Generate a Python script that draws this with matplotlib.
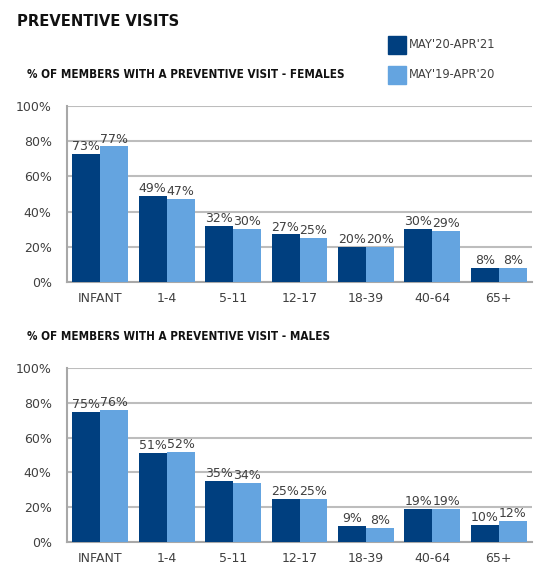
import numpy as np
import matplotlib.pyplot as plt
from matplotlib.patches import Rectangle

# donnees
categories = ["INFANT", "1-4", "5-11", "12-17", "18-39", "40-64", "65+"]
females_2021 = [73, 49, 32, 27, 20, 30, 8]
females_2020 = [77, 47, 30, 25, 20, 29, 8]
males_2021 = [75, 51, 35, 25, 9, 19, 10]
males_2020 = [76, 52, 34, 25, 8, 19, 12]
series_names = ["MAY'20-APR'21", "MAY'19-APR'20"]

DARK = "#003F7F"
LIGHT = "#64A4E0"
GRID = "#BDBDBD"
TXT = "#404040"

plt.rcParams['font.family'] = ['DejaVu Sans']

W, H = 539, 564
fig = plt.figure(figsize=(W / 100, H / 100), dpi=100)


def fig_axes(left, top, right, bottom):
    return fig.add_axes([left / W, 1 - bottom / H, (right - left) / W, (bottom - top) / H])


def draw_panel(ax, v1, v2):
    x = np.arange(len(categories))
    bw = 0.42
    ax.bar(x - bw / 2, v1, bw, color=DARK, zorder=3)
    ax.bar(x + bw / 2, v2, bw, color=LIGHT, zorder=3)
    for xi, a, b in zip(x, v1, v2):
        ax.text(xi - bw / 2, a + 0.5, f"{a}%", ha="center", va="bottom", fontsize=9, color=TXT, zorder=4)
        ax.text(xi + bw / 2, b + 0.5, f"{b}%", ha="center", va="bottom", fontsize=9, color=TXT, zorder=4)
    ax.set_xlim(-0.5, len(categories) - 0.5)
    ax.set_ylim(0, 100)
    ax.set_yticks(range(0, 101, 20))
    ax.set_yticklabels([f"{t}%" for t in range(0, 101, 20)])
    ax.set_xticks(x)
    ax.set_xticklabels(categories)
    ax.tick_params(axis="both", length=0, labelsize=9, colors=TXT)
    ax.tick_params(axis="y", pad=11)
    ax.tick_params(axis="x", pad=7)
    ax.yaxis.grid(True, color=GRID, linewidth=1.5, zorder=0)
    for s in ["top", "right"]:
        ax.spines[s].set_visible(False)
    for s in ["left", "bottom"]:
        ax.spines[s].set_color("#A8A8A8")
        ax.spines[s].set_linewidth(1.5)


ax1 = fig_axes(67, 106, 532, 282)
draw_panel(ax1, females_2021, females_2020)
ax2 = fig_axes(67, 368, 532, 542)
draw_panel(ax2, males_2021, males_2020)

fig.text(17 / W, 1 - 21 / H, "PREVENTIVE VISITS", fontsize=11.8, fontweight="bold",
         fontstretch="condensed", color="#111111", va="center", ha="left")
fig.text(27 / W, 1 - 75 / H, "% OF MEMBERS WITH A PREVENTIVE VISIT - FEMALES", fontsize=8.4,
         fontweight="bold", fontstretch="condensed", color="#111111", va="center", ha="left")
fig.text(27 / W, 1 - 336 / H, "% OF MEMBERS WITH A PREVENTIVE VISIT - MALES", fontsize=8.4,
         fontweight="bold", fontstretch="condensed", color="#111111", va="center", ha="left")

# legende
for i, (name, col) in enumerate(zip(series_names, [DARK, LIGHT])):
    yc = 45 + i * 30
    fig.patches.append(Rectangle((388 / W, 1 - (yc + 9) / H), 18 / W, 18 / H,
                                 transform=fig.transFigure, color=col))
    fig.text(409 / W, 1 - yc / H, name, fontsize=8.3, color=TXT, va="center", ha="left")

fig.savefig("out.png", dpi=100)
